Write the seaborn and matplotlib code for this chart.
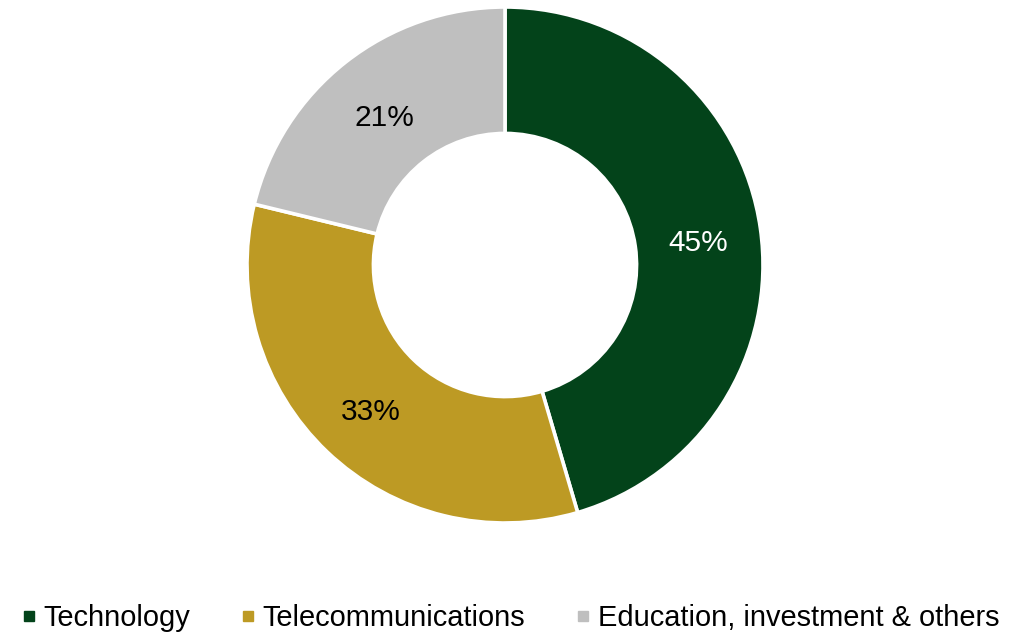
import matplotlib
matplotlib.use("Agg")
import matplotlib.pyplot as plt
from matplotlib.lines import Line2D
import numpy as np
import seaborn as sns

# Revenue share by segment
categories = ["Technology", "Telecommunications", "Education, investment & others"]
shares = [45, 33, 21]
pct_labels = ["45%", "33%", "21%"]
colors = ["#03431A", "#BD9A24", "#BFBFBF"]
text_colors = ["white", "black", "black"]

sns.set_theme(style="white")
plt.rcParams["font.family"] = ["Liberation Sans", "DejaVu Sans"]
plt.rcParams["text.color"] = "black"

W, H = 1028, 633
fig = plt.figure(figsize=(W / 100, H / 100), dpi=100)

# donut centred at (505, 265) px with outer radius 258 px
cx, cy, r = 505, 265, 258
ax = fig.add_axes([(cx - r) / W, (H - cy - r) / H, 2 * r / W, 2 * r / H])
ring = 0.49
wedges, _ = ax.pie(
    shares,
    colors=colors,
    startangle=90,
    counterclock=False,
    radius=1.0,
    wedgeprops=dict(width=ring, edgecolor="white", linewidth=2.6),
)

# percentage labels at the middle of each ring segment
total = sum(shares)
start = 90.0
for val, lab, tc in zip(shares, pct_labels, text_colors):
    span = 360.0 * val / total
    mid = np.deg2rad(start - span / 2)
    rr = 1.0 - ring / 2
    ax.text(rr * np.cos(mid), rr * np.sin(mid) - 0.012, lab, ha="center",
            va="center_baseline", fontsize=21.5, color=tc)
    start -= span

ax.set_xlim(-1, 1)
ax.set_ylim(-1, 1)
ax.set_aspect("equal")
ax.axis("off")

handles = [Line2D([0], [0], marker="s", linestyle="none", markersize=7.5,
                  markerfacecolor=c, markeredgecolor=c) for c in colors]
fig.legend(handles, categories, loc="center", bbox_to_anchor=(0.4965, 1 - 618 / H),
           ncol=3, frameon=False, fontsize=20.9, handlelength=0.5,
           handletextpad=0.25, columnspacing=1.75, borderpad=0, borderaxespad=0,
           labelcolor="black")

fig.savefig("out.png", dpi=100, facecolor="white")
